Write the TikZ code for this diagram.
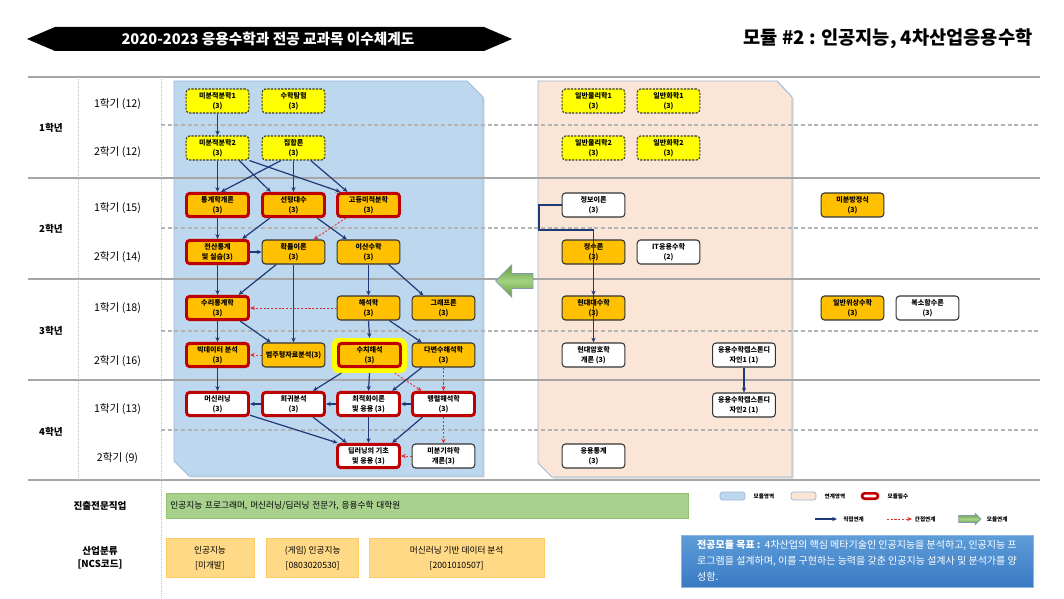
\documentclass[tikz,border=0pt]{standalone}
\usepackage{fontspec}
\setmainfont{Noto Sans CJK KR}
\usetikzlibrary{positioning,arrows.meta,shapes.arrows,shadows}
\definecolor{regionblue}{HTML}{BDD7EE}
\definecolor{regionpink}{HTML}{FBE5D6}
\definecolor{regionedge}{HTML}{9DB9D9}
\definecolor{courseyellow}{HTML}{FFFF00}
\definecolor{courseamber}{HTML}{FFC000}
\definecolor{mustred}{HTML}{C00000}
\definecolor{linknavy}{HTML}{1F3A78}
\definecolor{linkred}{HTML}{E03131}
\definecolor{gridgray}{HTML}{A6A6A6}
\definecolor{jobgreen}{HTML}{A9D18E}
\definecolor{jobedge}{HTML}{93C26F}
\definecolor{ncsorange}{HTML}{FFD985}
\definecolor{ncsedge}{HTML}{FFCB66}
\definecolor{goaltop}{HTML}{5D9DD8}
\definecolor{goalbottom}{HTML}{3A7AC4}
\definecolor{goaledge}{HTML}{8DB4E2}
\definecolor{arrowgreen}{HTML}{7CC04C}
\definecolor{arrowedge}{HTML}{8497B0}
\tikzset{
  course/.style={rounded corners=2.5pt, align=center, font=\fontsize{5.3}{7.5}\selectfont\bfseries, minimum width=47pt, minimum height=18pt, inner sep=1pt, line width=0.8pt, draw=black!80},
  intro course/.style={course, fill=courseyellow, dash pattern=on 1.6pt off 1pt},
  core course/.style={course, fill=courseamber},
  open course/.style={course, fill=white},
  must course/.style={core course, draw=mustred, line width=2.2pt, minimum width=46.5pt, minimum height=17.5pt},
  must open course/.style={open course, draw=mustred, line width=2.2pt, minimum width=46.5pt, minimum height=17.5pt},
  focus glow/.style={fill=courseyellow, rounded corners=4pt, minimum width=56pt, minimum height=26pt, inner sep=0pt},
  direct link/.style={-{Stealth[length=3.6pt,width=3.2pt]}, draw=linknavy, line width=0.9pt},
  indirect link/.style={-{Stealth[length=3.6pt,width=3.2pt]}, draw=linkred, line width=0.6pt, dash pattern=on 1.6pt off 1.2pt},
  area/.style={draw=regionedge, line width=0.7pt, drop shadow={shadow xshift=1.2pt, shadow yshift=-1.2pt, opacity=0.3}},
  grid solid/.style={draw=gridgray, line width=1.4pt},
  grid dashed/.style={draw=gridgray!85, line width=0.8pt, dash pattern=on 3pt off 2pt},
  grid dotted/.style={draw=black!25, line width=0.5pt, densely dotted},
  year label/.style={font=\fontsize{7.2}{10}\selectfont\bfseries, align=center},
  term label/.style={font=\fontsize{8}{10}\selectfont},
  banner text/.style={text=white, font=\fontsize{11}{13}\selectfont\bfseries},
  module title/.style={font=\fontsize{14}{16}\selectfont\bfseries},
  job bar/.style={fill=jobgreen, draw=jobedge, line width=0.5pt, minimum height=18.75pt, text width=385pt, align=left, font=\fontsize{6.5}{8}\selectfont},
  ncs box/.style={fill=ncsorange, draw=ncsedge, line width=0.5pt, minimum height=29.6pt, align=center, font=\fontsize{6.5}{11}\selectfont, inner sep=1pt},
  legend box/.style={rounded corners=2pt, minimum width=18.75pt, minimum height=6pt, inner sep=0pt, line width=0.6pt},
  legend text/.style={font=\fontsize{4.2}{5}\selectfont\bfseries, inner sep=0pt},
  module arrow/.style={single arrow, draw=arrowedge, left color=arrowgreen!80!black, right color=arrowgreen!80!black, middle color=arrowgreen!70!white, shading angle=0, inner sep=0pt, line width=0.6pt},
  goal box/.style={top color=goaltop, bottom color=goalbottom, draw=goaledge, line width=0.5pt, minimum width=264pt, minimum height=39pt, align=left, text=white, font=\fontsize{7.5}{12}\selectfont},
}

\begin{document}
\begin{tikzpicture}[x=0.75pt,y=-0.75pt]
\useasboundingbox (0,0) rectangle (1064,599);
% title banner
\fill[black] (27,39) -- (55,27) -- (484,27) -- (512,39) -- (484,51) -- (55,51) -- cycle;
\node[banner text] (title) at (268,39) {2020-2023 응용수학과 전공 교과목 이수체계도};
\node[module title] (modtitle) at (888,39) {모듈 \#2 : 인공지능, 4차산업응용수학};

% module and linked areas
\filldraw[area, fill=regionblue] (174,81) -- (467,81) -- (483,97) -- (483,476) -- (189,476) -- (174,461) -- cycle;
\filldraw[area, fill=regionpink] (538,81) -- (777,81) -- (792,97) -- (792,477) -- (552,477) -- (538,463) -- cycle;

% year and term grid
\draw[grid solid] (28,77) -- (1040,77);
\draw[grid solid] (28,178) -- (1040,178);
\draw[grid solid] (28,279) -- (1040,279);
\draw[grid solid] (28,380) -- (1040,380);
\draw[grid solid] (28,480) -- (1040,480);
\draw[grid dashed] (161,125) -- (1040,125);
\draw[grid dashed] (161,228) -- (1040,228);
\draw[grid dashed] (161,331) -- (1040,331);
\draw[grid dashed] (161,430) -- (1040,430);
\draw[grid dotted] (78,77) -- (78,480);
\draw[grid dotted] (161,77) -- (161,599);

% year and term labels
\node[year label] (yearA) at (51,128) {1학년};
\node[year label] (yearB) at (51,229) {2학년};
\node[year label] (yearC) at (51,331) {3학년};
\node[year label] (yearD) at (51,432) {4학년};
\node[term label] (termA) at (117.5,104) {1학기 (12)};
\node[term label] (termB) at (117.5,152) {2학기 (12)};
\node[term label] (termC) at (117.5,208) {1학기 (15)};
\node[term label] (termD) at (117.5,257) {2학기 (14)};
\node[term label] (termE) at (117.5,308) {1학기 (18)};
\node[term label] (termF) at (117.5,361) {2학기 (16)};
\node[term label] (termG) at (117.5,409) {1학기 (13)};
\node[term label] (termH) at (117.5,458) {2학기 (9)};

% first year
\node[intro course] (calcA) at (217.5,101) {미분적분학1\\(3)};
\node[intro course] (explore) at (293.5,101) {수학탐험\\(3)};
\node[intro course] (calcB) at (217.5,148) {미분적분학2\\(3)};
\node[intro course] (sets) at (293.5,148) {집합론\\(3)};
\node[intro course] (physA) at (593.5,101) {일반물리학1\\(3)};
\node[intro course] (chemA) at (668.5,101) {일반화학1\\(3)};
\node[intro course] (physB) at (593.5,148) {일반물리학2\\(3)};
\node[intro course] (chemB) at (668.5,148) {일반화학2\\(3)};
% second year
\node[must course] (stat) at (217.5,205) {통계학개론\\(3)};
\node[must course] (linalg) at (293.5,205) {선형대수\\(3)};
\node[must course] (advcalc) at (368.5,205) {고등미적분학\\(3)};
\node[open course] (info) at (593.5,205) {정보이론\\(3)};
\node[core course] (diffeq) at (852.5,205) {미분방정식\\(3)};
\node[must course] (comp) at (217.5,252) {전산통계\\및 실습(3)};
\node[core course] (prob) at (293.5,252) {확률이론\\(3)};
\node[core course] (discrete) at (368.5,252) {이산수학\\(3)};
\node[core course] (number) at (593.5,252) {정수론\\(3)};
\node[open course] (itmath) at (668.5,252) {IT응용수학\\(2)};
% third year
\node[must course] (mstat) at (217.5,308) {수리통계학\\(3)};
\node[core course] (anal) at (368.5,308) {해석학\\(3)};
\node[core course] (graph) at (443.5,308) {그래프론\\(3)};
\node[core course] (algebra) at (593.5,308) {현대대수학\\(3)};
\node[core course] (topo) at (852.5,308) {일반위상수학\\(3)};
\node[open course] (complex) at (927.5,308) {복소함수론\\(3)};
\node[must course] (bigdata) at (217.5,355) {빅데이터 분석\\(3)};
\node[core course] (categ) at (293.5,355) {범주형자료분석(3)};
\node[focus glow] (numglow) at (369.5,355.5) {};
\node[must course] (numer) at (369.5,355) {수치해석\\(3)};
\node[core course] (multi) at (443.5,355) {다변수해석학\\(3)};
\node[open course] (crypto) at (593.5,355) {현대암호학\\개론 (3)};
\node[open course] (capA) at (744,355) {응용수학캡스톤디\\자인1 (1)};
% fourth year
\node[must open course] (ml) at (217.5,404) {머신러닝\\(3)};
\node[must open course] (regr) at (293.5,404) {회귀분석\\(3)};
\node[must open course] (optim) at (368.5,404) {최적화이론\\및 응용 (3)};
\node[must open course] (matan) at (443.5,404) {행렬해석학\\(3)};
\node[open course] (capB) at (744,405) {응용수학캡스톤디\\자인2 (1)};
\node[must open course] (deep) at (368.5,456) {딥러닝의 기초\\및 응용 (3)};
\node[open course] (geom) at (443.5,456) {미분기하학\\개론(3)};
\node[open course] (appstat) at (593.5,456) {응용통계\\(3)};

% module link
\node[module arrow, shape border rotate=180, minimum height=28pt, single arrow head extend=6.5pt] (modlink) at (518,281) {\rule{0pt}{10.5pt}};

% direct and indirect links
\draw[direct link] (calcA.south) -- (calcB.north);
\draw[direct link] (calcB.south) -- (stat.north);
\draw[direct link] (calcB.-30) -- (linalg.150);
\draw[direct link] (calcB.south east) -- (advcalc.155);
\draw[direct link] (sets.-135) -- (stat.75);
\draw[direct link] (sets.south) -- (linalg.north);
\draw[direct link] (sets.-36) -- (advcalc.148);

\draw[direct link] (stat.south) -- (comp.north);
\draw[direct link] (linalg.-151) -- (comp.28);
\draw[direct link] (linalg.-29) -- (discrete.150);
\draw[indirect link] (advcalc.-150) -- (prob.32);
\draw[direct link] (comp.east) -- (prob.west);

\draw[direct link] (comp.south) -- (mstat.north);
\draw[direct link] (prob.-144) -- (mstat.32);
\draw[direct link] (prob.south) -- (categ.north);
\draw[direct link] (discrete.south) -- (anal.north);
\draw[direct link] (discrete.-32) -- (graph.148);

\draw[indirect link] (anal.west) -- (mstat.east);
\draw[direct link] (mstat.south) -- (bigdata.north);
\draw[direct link] (mstat.-30) -- (categ.151);
\draw[indirect link] (categ.west) -- (bigdata.east);
\draw[direct link] (anal.south) -- (numglow.north);
\draw[direct link] (anal.-31) -- (multi.150);

\draw[direct link] (bigdata.south) -- (ml.north);
\draw[direct link] (numglow.-148) -- (regr.34);
\draw[direct link] (numglow.south) -- (optim.north);
\draw[indirect link] (numglow.-35) -- (matan.149);
\draw[direct link] (multi.-150) -- (optim.29);
\draw[indirect link] (multi.south) -- (matan.north);

\draw[direct link] (regr.west) -- (ml.east);
\draw[direct link] (optim.west) -- (regr.east);
\draw[direct link] (matan.west) -- (optim.east);
\draw[direct link] (ml.-19) -- (deep.157);
\draw[direct link] (regr.-34) -- (deep.149);
\draw[direct link] (optim.south) -- (deep.north);
\draw[direct link] (matan.-148) -- (deep.29);
\draw[indirect link] (matan.south) -- (geom.north);
\draw[indirect link] (geom.west) -- (deep.east);

\coordinate (infobend) at (539,230);
\draw[direct link] (info.west) -| (infobend) -| (algebra.north);
\draw[direct link] (algebra.north) -- (crypto.north);
\draw[direct link] (capA.south) -- (capB.north);

% careers and NCS
\node[year label] (jobs) at (100,506) {진출전문직업};
\node[year label] (ncs) at (100,558) {산업분류\\{[NCS코드]}};
\node[job bar] (jobbar) at (427,506) {인공지능 프로그래머, 머신러닝/딥러닝 전문가, 응용수학 대학원};
\node[ncs box, minimum width=66pt] (ncsA) at (210,558) {인공지능\\{[미개발]}};
\node[ncs box, minimum width=69pt, right=9pt of ncsA] (ncsB) {(게임) 인공지능\\{[0803020530]}};
\node[ncs box, minimum width=131pt, right=7.5pt of ncsB] (ncsC) {머신러닝 기반 데이터 분석\\{[2001010507]}};

% legend
\node[legend box, fill=regionblue, draw=regionedge] (legA) at (732.5,496) {};
\node[legend text, right=6pt of legA] (legAtext) {모듈영역};
\node[legend box, fill=regionpink, draw=regionedge] (legB) at (803.5,496) {};
\node[legend text, right=6pt of legB] (legBtext) {연계영역};
\node[legend box, fill=white, draw=mustred, line width=2pt, minimum width=12pt, minimum height=4pt] (legC) at (870,496) {};
\node[legend text, right=6pt of legC] (legCtext) {모듈필수};
\coordinate (legdirA) at (815,519);
\coordinate (legdirB) at (837,519);
\draw[direct link] (legdirA) -- (legdirB);
\node[legend text, right=4.5pt of legdirB] (legdirtext) {직접연계};
\coordinate (legindA) at (887,519);
\coordinate (legindB) at (912,519);
\draw[indirect link] (legindA) -- (legindB);
\node[legend text, right=2pt of legindB] (legindtext) {간접연계};
\node[module arrow, minimum height=16.5pt, single arrow head extend=1.6pt] (legmod) at (968,519) {\rule{0pt}{4.5pt}};
\node[legend text, right=4pt of legmod] (legmodtext) {모듈연계};

% goal
\node[goal box] (goal) at (857,561) {\textbf{전공모듈 목표 :}~~4차산업의 핵심 메타기술인 인공지능을 분석하고, 인공지능 프\\로그램을 설계하며, 이를 구현하는 능력을 갖춘 인공지능 설계사 및 분석가를 양\\성함.};
\end{tikzpicture}
\end{document}
